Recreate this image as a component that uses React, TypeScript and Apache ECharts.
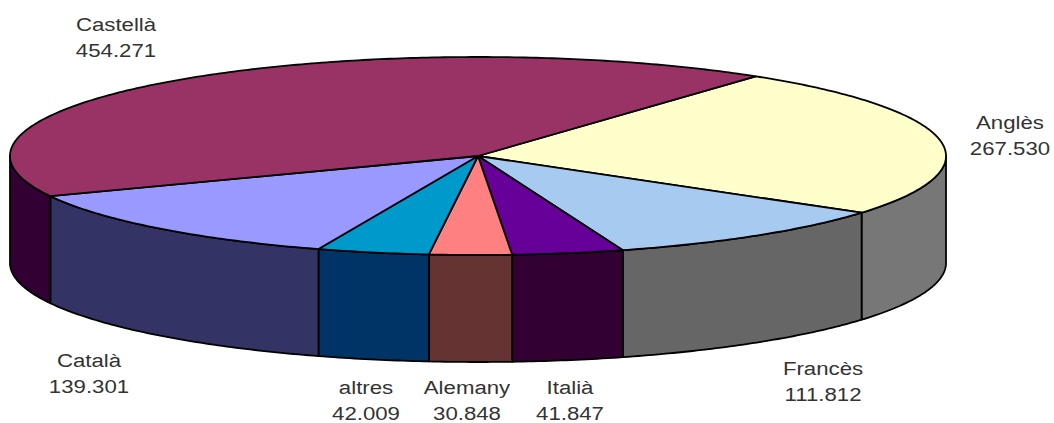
import React, { useEffect, useRef } from "react";
import * as echarts from "echarts";

// Clockwise from the start angle
const languages = ["Anglès", "Francès", "Italià", "Alemany", "altres", "Català", "Castellà"];
const speakers = [267530, 111812, 41847, 30848, 42009, 139301, 454271];
const speakerLabels = ["267.530", "111.812", "41.847", "30.848", "42.009", "139.301", "454.271"];

const topColors = ["#FFFFCC", "#A6CAF0", "#660099", "#FF8080", "#0099CC", "#9999FF", "#993366"];
const wallColors = ["#777777", "#666666", "#330033", "#663333", "#003366", "#333366", "#330033"];

// Label layout: centre x, first-line y
const labelX = [1010, 823, 570, 467, 366, 89, 116];
const labelY = [122, 368, 387, 387, 387, 360, 24];

const CX = 478;
const CY = 156;
const RX = 468;
const RY = 99;
const DEPTH = 107;
const START = 53.6;
const LINE_GAP = 26;

function pt(deg: number, dy = 0): [number, number] {
  const a = (deg * Math.PI) / 180;
  return [CX + RX * Math.cos(a), CY - RY * Math.sin(a) + dy];
}

function arc(from: number, to: number, dy = 0): [number, number][] {
  const pts: [number, number][] = [];
  const n = Math.max(2, Math.ceil(Math.abs(from - to) * 1.5));
  for (let i = 0; i <= n; i++) pts.push(pt(from + ((to - from) * i) / n, dy));
  return pts;
}

const total = speakers.reduce((s, v) => s + v, 0);

function renderItem(params: any, api: any) {
  const i = params.dataIndex;
  const value = api.value(0);
  const before = speakers.slice(0, i).reduce((s, v) => s + v, 0);
  const a0 = START - (before / total) * 360;
  const a1 = a0 - (value / total) * 360;
  const outline = { stroke: "#000", lineWidth: 1.8, lineJoin: "round" };
  const children: any[] = [];

  // The visible wall is the part of the rim in the lower half (angles -180..0)
  const wallFrom = Math.min(a0, 0);
  const wallTo = Math.max(a1, -180);
  if (wallFrom > wallTo) {
    children.push({
      type: "polygon",
      shape: { points: [...arc(wallFrom, wallTo), ...arc(wallTo, wallFrom, DEPTH)] },
      style: { fill: wallColors[i], ...outline },
    });
  }

  children.push({
    type: "polygon",
    shape: { points: [[CX, CY], ...arc(a0, a1)] },
    style: { fill: topColors[i], ...outline },
  });

  const textStyle = {
    fill: "#333",
    fontFamily: "Liberation Sans",
    fontSize: 19,
    align: "center",
    verticalAlign: "middle",
  };
  children.push(
    {
      type: "text",
      x: labelX[i],
      y: labelY[i],
      scaleX: 1.17,
      style: { text: languages[i], ...textStyle },
    },
    {
      type: "text",
      x: labelX[i],
      y: labelY[i] + LINE_GAP,
      scaleX: 1.17,
      style: { text: speakerLabels[i], ...textStyle },
    }
  );
  return { type: "group", children };
}

export default function App() {
  const ref = useRef<HTMLDivElement>(null);
  useEffect(() => {
    const chart = echarts.init(ref.current!, undefined, { renderer: "svg" });
    chart.setOption({
      animation: false,
      backgroundColor: "#fff",
      series: [
        {
          type: "custom",
          coordinateSystem: "none",
          silent: true,
          clip: false,
          renderItem,
          data: speakers.map((v, i) => ({ name: languages[i], value: [v] })),
        },
      ],
    });
    return () => chart.dispose();
  }, []);
  return <div ref={ref} style={{ position: "fixed", left: 0, top: 0, width: 1054, height: 423 }} />;
}
